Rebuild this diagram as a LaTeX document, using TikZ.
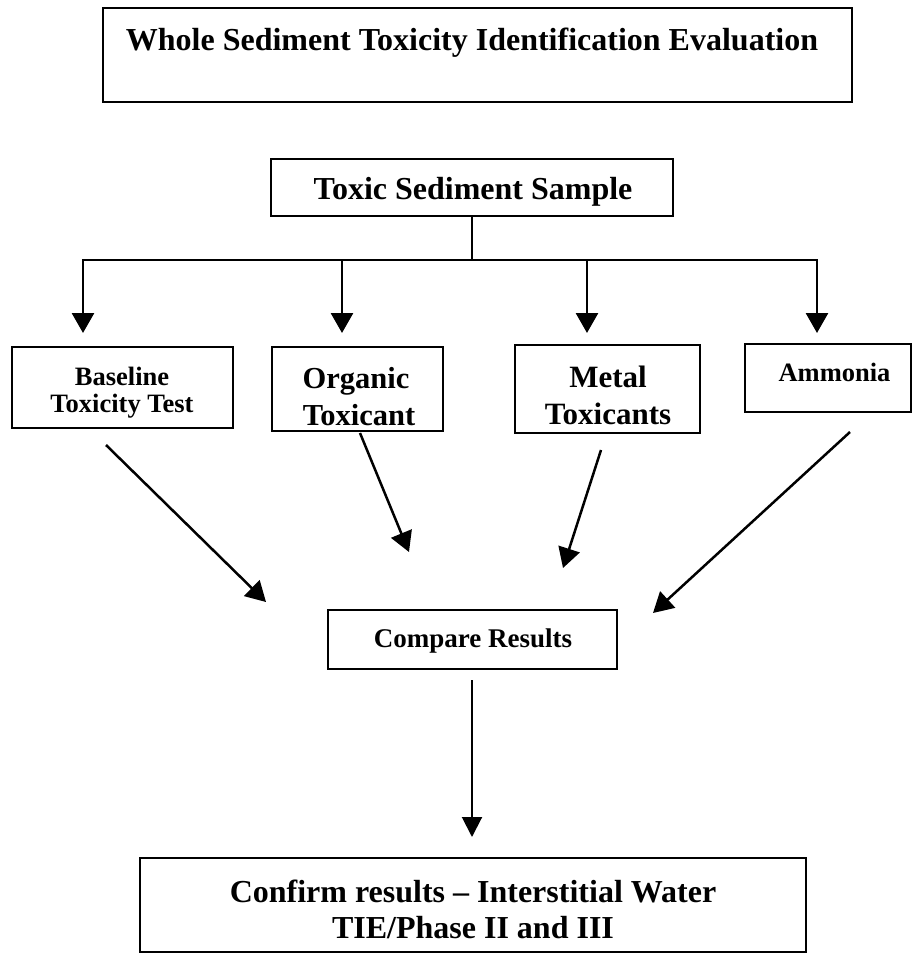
\documentclass[tikz,border=0pt]{standalone}
\usepackage{fontspec}
\setmainfont{Liberation Serif}
\usetikzlibrary{arrows.meta}

\begin{document}
\begin{tikzpicture}[x=1pt,y=-1pt,
  box/.style={draw, line width=2.5pt, inner sep=0pt, fill=none},
  txt/.style={anchor=base, inner sep=0pt, font=\bfseries},
  conn/.style={line width=2.5pt},
  arr/.style={line width=2.8pt, -{Triangle[length=20pt,width=22pt]}},
  thinarr/.style={line width=2pt, -{Triangle[length=20pt,width=20pt]}}
]
\useasboundingbox (0,0) rectangle (914,959);

% boxes
\node[box, minimum width=749pt, minimum height=94pt] (titlebox) at (477.5,55) {};
\node[box, minimum width=402pt, minimum height=57pt] (toxic) at (472,187.5) {};
\node[box, minimum width=221pt, minimum height=81pt] (base) at (122.5,387.5) {};
\node[box, minimum width=171pt, minimum height=84pt] (org) at (357.5,389) {};
\node[box, minimum width=185pt, minimum height=88pt] (metal) at (607.5,389) {};
\node[box, minimum width=166pt, minimum height=68pt] (amm) at (828,378) {};
\node[box, minimum width=289pt, minimum height=59pt] (comp) at (472.5,639.5) {};
\node[box, minimum width=666pt, minimum height=94pt] (final) at (473,905) {};

% texts
\node[txt, font=\fontsize{32}{38}\selectfont\bfseries] (titletext) at (472,50) {Whole Sediment Toxicity Identification Evaluation};
\node[txt, font=\fontsize{32}{38}\selectfont\bfseries] (toxictext) at (473,199) {Toxic Sediment Sample};
\node[txt, font=\fontsize{26.5}{28}\selectfont\bfseries] (basetext1) at (122,385) {Baseline};
\node[txt, font=\fontsize{26.5}{28}\selectfont\bfseries] (basetext2) at (122,412) {Toxicity Test};
\node[txt, font=\fontsize{30.5}{36}\selectfont\bfseries] (orgtext1) at (356,388) {Organic};
\node[txt, font=\fontsize{30.5}{36}\selectfont\bfseries] (orgtext2) at (359,425) {Toxicant};
\node[txt, font=\fontsize{31}{36}\selectfont\bfseries] (metaltext1) at (608,387) {Metal};
\node[txt, font=\fontsize{31}{36}\selectfont\bfseries] (metaltext2) at (608,424) {Toxicants};
\node[txt, font=\fontsize{26.5}{28}\selectfont\bfseries] (ammtext) at (834.5,381) {Ammonia};
\node[txt, font=\fontsize{27}{30}\selectfont\bfseries] (comptext) at (473,647) {Compare Results};
\node[txt, font=\fontsize{32}{38}\selectfont\bfseries] (finaltext1) at (473,902) {Confirm results -- Interstitial Water};
\node[txt, font=\fontsize{32}{38}\selectfont\bfseries] (finaltext2) at (473,938) {TIE/Phase II and III};

% branching bus under the sample box
\coordinate (busL) at (83,260);
\coordinate (busR) at (817,260);
\coordinate (busM) at (toxic.south |- busL);
\coordinate (bus2) at (342,260);
\coordinate (bus3) at (587,260);
\coordinate (tip1) at (83,333);
\coordinate (tip2) at (342,333);
\coordinate (tip3) at (587,333);
\coordinate (tip4) at (817,333);

\draw[conn] (toxic.south) -- (busM);
\draw[conn] ([xshift=-1.2pt]busL) -- ([xshift=1.2pt]busR);
\draw[arr] (busL) -- (tip1);
\draw[arr] (bus2) -- (tip2);
\draw[arr] (bus3) -- (tip3);
\draw[arr] (busR) -- (tip4);

% converging arrows towards the comparison
\coordinate (s1) at (106,445);
\coordinate (e1) at (266,602);
\coordinate (s2) at (360,433);
\coordinate (e2) at (409,552);
\coordinate (s3) at (601,450);
\coordinate (e3) at (563,568);
\coordinate (s4) at (850,432);
\coordinate (e4) at (653,613);
\draw[arr, line width=2.5pt] (s1) -- (e1);
\draw[arr, line width=2.5pt] (s2) -- (e2);
\draw[arr, line width=2.5pt] (s3) -- (e3);
\draw[arr, line width=2.5pt] (s4) -- (e4);

% final step
\coordinate (cs) at (472,680);
\coordinate (ce) at (472,837);
\draw[thinarr] (cs) -- (ce);
\end{tikzpicture}
\end{document}
